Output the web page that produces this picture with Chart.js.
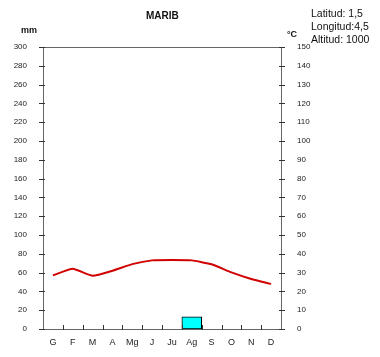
<!DOCTYPE html>
<html><head><meta charset="utf-8">
<script src="https://cdn.jsdelivr.net/npm/chart.js@4"></script>
<style>
html,body{margin:0;padding:0;background:#fff;}
#wrap{position:relative;width:380px;height:357px;font-family:"Liberation Sans",Arial,sans-serif;}
canvas{position:absolute;left:0;top:0;}
.t{position:absolute;white-space:nowrap;color:#111;line-height:1;}
</style></head>
<body>
<div id="wrap">
<canvas id="c" width="380" height="357"></canvas>
<div class="t" style="left:146px;top:11px;font-size:10px;font-weight:bold;">MARIB</div>
<div class="t" style="left:21px;top:26px;font-size:9px;font-weight:bold;">mm</div>
<div class="t" style="left:287px;top:30px;font-size:9px;font-weight:bold;">°C</div>
<div class="t" style="left:311px;top:8px;font-size:10.5px;">Latitud: 1,5</div>
<div class="t" style="left:311px;top:21px;font-size:10.5px;">Longitud:4,5</div>
<div class="t" style="left:311px;top:34px;font-size:10.5px;">Altitud: 1000</div>
</div>
<script>
const months = ["G","F","M","A","Mg","J","Ju","Ag","S","O","N","D"];
const precipitation = [0,0,0,0,0,0,0,13,0,0,0,0];
const temperature = [28.5,32,28.3,31,34.5,36.5,36.7,36.5,34.4,30.1,26.6,24];
const mmTicks = [0,300,20];
const cTicks = [0,150,10];

const axisColor = '#666';
const frame = {
  id:'frame',
  afterDraw(chart){
    const ctx = chart.ctx, a = chart.chartArea;
    const y = chart.scales.y, y2 = chart.scales.y2;
    ctx.save();
    ctx.strokeStyle = axisColor; ctx.lineWidth = 1;
    ctx.beginPath();
    ctx.moveTo(a.left, a.top+0.5); ctx.lineTo(a.right, a.top+0.5);
    ctx.stroke();
    ctx.strokeStyle = '#333';
    ctx.beginPath();
    y.ticks.forEach(t=>{ const p = Math.round(y.getPixelForValue(t.value))+0.5; ctx.moveTo(a.left-4,p); ctx.lineTo(a.left+2,p); });
    y2.ticks.forEach(t=>{ const p = Math.round(y2.getPixelForValue(t.value))+0.5; ctx.moveTo(a.right-2,p); ctx.lineTo(a.right+4,p); });
    const n = months.length, w = (a.right-a.left)/n;
    for(let i=1;i<n;i++){ const p = Math.round(a.left+w*i)+0.5; ctx.moveTo(p,a.bottom-4); ctx.lineTo(p,a.bottom+1); }
    ctx.stroke();
    ctx.restore();
  }
};

new Chart(document.getElementById('c'), {
  data:{
    labels: months,
    datasets:[
      {type:'line', label:'°C', data: temperature, yAxisID:'y2', borderColor:'#d00000', borderWidth:2, pointRadius:0, tension:0.15, fill:false, order:0},
      {type:'bar', label:'mm', data: precipitation, yAxisID:'y', backgroundColor:'#00ffff', borderColor:'#000', borderWidth:1, borderSkipped:false, barPercentage:1, categoryPercentage:1, order:1}
    ]
  },
  options:{
    responsive:false, animation:false, devicePixelRatio:1,
    layout:{padding:{top:47,left:0,right:0,bottom:0}},
    plugins:{legend:{display:false}, tooltip:{enabled:false}, title:{display:false}},
    scales:{
      x:{offset:true, grid:{display:false}, border:{display:true,color:axisColor,width:1},
         ticks:{color:'#222', font:{family:'Liberation Sans',size:9}, padding:0, maxRotation:0, autoSkip:false},
         afterFit(s){s.height=28;}},
      y:{position:'left', min:mmTicks[0], max:mmTicks[1], grid:{display:false}, border:{display:true,color:axisColor,width:1},
         ticks:{stepSize:mmTicks[2], color:'#222', font:{family:'Liberation Sans',size:8}, padding:8},
         afterFit(s){s.width=43;}},
      y2:{position:'right', min:cTicks[0], max:cTicks[1], grid:{display:false}, border:{display:true,color:axisColor,width:1},
         ticks:{stepSize:cTicks[2], color:'#222', font:{family:'Liberation Sans',size:8}, padding:8},
         afterFit(s){s.width=99;}}
    }
  },
  plugins:[frame]
});
</script>
</body></html>
